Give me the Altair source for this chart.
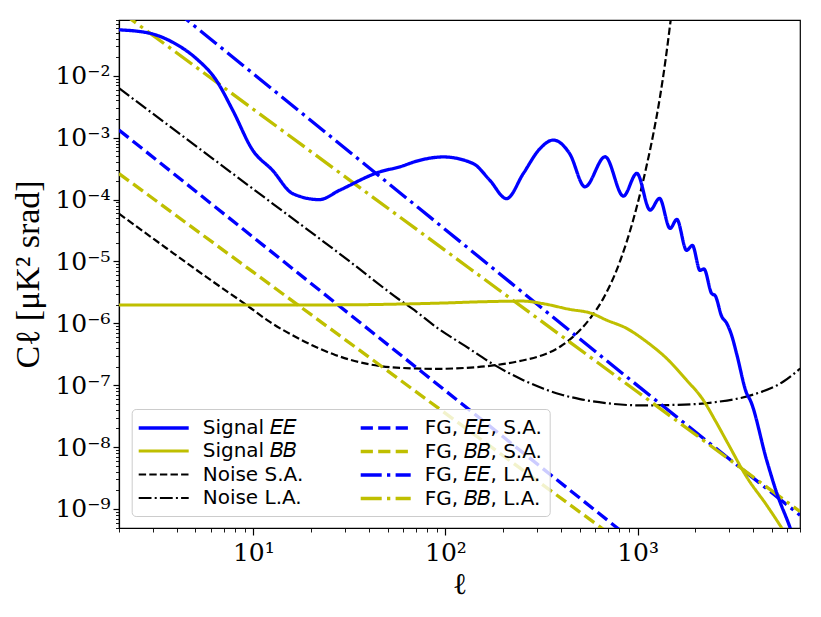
import altair as alt
import pandas as pd

# ---- values (log10 of ell, log10 of C_ell) ----
ee_log_ell = [0.301, 0.458, 0.588, 0.701, 0.806, 0.892, 0.996, 1.1, 1.205, 1.344, 1.448, 1.657,
              1.762, 1.866, 1.988, 2.144, 2.231, 2.318, 2.405, 2.492, 2.561, 2.647, 2.726, 2.831,
              2.926, 2.996, 3.065, 3.114, 3.169, 3.204, 3.255, 3.285, 3.325, 3.345, 3.386, 3.403,
              3.438, 3.464, 3.49, 3.516, 3.568, 3.586, 3.672, 3.725, 3.794, 3.846]
ee_log_cl = [-1.256, -1.309, -1.47, -1.714, -2.065, -2.55, -3.197, -3.526, -3.903, -4.0, -3.85, -3.553,
             -3.47, -3.364, -3.31, -3.417, -3.688, -3.984, -3.579, -3.175, -3.037, -3.26, -3.793, -3.307,
             -3.943, -3.576, -4.17, -3.98, -4.466, -4.32, -4.82, -4.74, -5.144, -5.12, -5.52, -5.55,
             -5.89, -6.0, -6.2, -6.5, -7.135, -7.24, -8.216, -8.75, -9.307, -9.8]

bb_log_ell = [0.301, 1.0, 1.5, 1.762, 2.0, 2.196, 2.405, 2.506, 2.645, 2.76, 2.838, 2.943, 3.047,
              3.151, 3.255, 3.342, 3.403, 3.468, 3.568, 3.672, 3.75, 3.846]
bb_log_cl = [-5.704, -5.704, -5.70, -5.688, -5.67, -5.65, -5.64, -5.68, -5.773, -5.838, -5.947, -6.081,
             -6.298, -6.566, -6.917, -7.241, -7.565, -7.93, -8.485, -8.94, -9.307, -9.8]

nsa_log_ell = [0.301, 0.55, 0.792, 0.965, 1.078, 1.252, 1.426, 1.6, 1.773, 1.95, 2.1, 2.248,
               2.4, 2.508, 2.6, 2.67, 2.75, 2.821, 2.908, 2.977, 3.047, 3.081, 3.116, 3.145, 3.17, 3.2]
nsa_log_cl = [-4.227, -4.79, -5.33, -5.704, -5.96, -6.27, -6.51, -6.66, -6.72, -6.735, -6.72, -6.68,
              -6.60, -6.51, -6.37, -6.2, -5.93, -5.6, -5.0, -4.33, -3.45, -2.95, -2.35, -1.75,
              -1.15, -0.4]

nla_log_ell = [0.301, 0.6, 1.0, 1.5, 1.757, 1.848, 1.965, 2.1, 2.248, 2.4, 2.508, 2.6, 2.7, 2.838,
               3.012, 3.2, 3.412, 3.603, 3.759, 3.846]
nla_log_cl = [-2.199, -2.897, -3.83, -4.995, -5.61, -5.81, -6.09, -6.36, -6.66, -6.91, -7.053, -7.149,
              -7.224, -7.29, -7.325, -7.317, -7.27, -7.15, -6.94, -6.73]

fg_log_ell = [0.301, 1.0, 2.0, 3.0, 3.845]
fg_ee_sa_log_cl = [-2.875, -4.609, -7.089, -9.569, -11.66]
fg_bb_sa_log_cl = [-3.579, -5.173, -7.454, -9.735, -11.66]
fg_ee_la_log_cl = [-0.204, -1.966, -4.486, -7.006, -9.10]
fg_bb_la_log_cl = [-0.942, -2.539, -4.824, -7.109, -9.040]

# legend order (the 2-column legend is filled column by column)
series_names = ["Signal 𝐸𝐸", "Signal 𝐵𝐵", "Noise S.A.", "Noise L.A.",
                "FG, 𝐸𝐸, S.A.", "FG, 𝐵𝐵, S.A.", "FG, 𝐸𝐸, L.A.", "FG, 𝐵𝐵, L.A."]
series_colors = ["#0000ff", "#bfbf00", "#000000", "#000000",
                 "#0000ff", "#bfbf00", "#0000ff", "#bfbf00"]
series_dash = [[1, 0], [1, 0], [7.4, 3.2], [12.8, 3.2, 2, 3.2],
               [12.2, 5.3], [12.2, 5.3], [21, 5.3, 3.3, 5.3], [21, 5.3, 3.3, 5.3]]
series_width = [3.3, 3.0, 2.2, 2.2, 3.3, 3.3, 3.3, 3.3]

curves = [
    ("Noise S.A.", nsa_log_ell, nsa_log_cl),
    ("Noise L.A.", nla_log_ell, nla_log_cl),
    ("FG, 𝐸𝐸, S.A.", fg_log_ell, fg_ee_sa_log_cl),
    ("FG, 𝐵𝐵, S.A.", fg_log_ell, fg_bb_sa_log_cl),
    ("FG, 𝐸𝐸, L.A.", fg_log_ell, fg_ee_la_log_cl),
    ("FG, 𝐵𝐵, L.A.", fg_log_ell, fg_bb_la_log_cl),
    ("Signal 𝐵𝐵", bb_log_ell, bb_log_cl),
    ("Signal 𝐸𝐸", ee_log_ell, ee_log_cl),
]
rows = []
for name, ll, lc in curves:
    for a, b in zip(ll, lc):
        rows.append({"ell": 10 ** a, "cl": 10 ** b, "series": name})
df = pd.DataFrame(rows)

# ---- ticks ----
x_major = [10, 100, 1000]
x_major_labels = ["10¹", "10²", "10³"]
x_ticks = [m * 10 ** d for d in range(0, 4) for m in range(1, 10) if 2 <= m * 10 ** d <= 7000]
y_major = [10.0 ** e for e in range(-9, -1)]
y_major_labels = ["10⁻⁹", "10⁻⁸", "10⁻⁷", "10⁻⁶", "10⁻⁵", "10⁻⁴", "10⁻³", "10⁻²"]
y_ticks = [m * 10.0 ** e for e in range(-10, -1) for m in range(1, 10)
           if 4.93e-10 <= m * 10.0 ** e <= 0.08]


def js_arr(vals):
    return "[" + ",".join(repr(v) for v in vals) + "]"


def js_str_arr(vals):
    return "[" + ",".join("'" + v + "'" for v in vals) + "]"


def label_expr(majors, labels):
    idx = "indexof(" + js_arr(majors) + ", datum.value)"
    return idx + " >= 0 ? " + js_str_arr(labels) + "[" + idx + "] : ''"


def major_test(majors):
    return "indexof(" + js_arr(majors) + ", datum.value) >= 0"


x_axis = alt.Axis(
    values=x_ticks, labelExpr=label_expr(x_major, x_major_labels),
    tickSize={"condition": {"test": major_test(x_major), "value": 7}, "value": 4},
    tickWidth={"condition": {"test": major_test(x_major), "value": 1.2}, "value": 0.9},
    labelPadding=5, title="ℓ", titleFont="DejaVu Serif", titleFontSize=30,
    titleFontWeight="normal", titlePadding=4,
)
y_axis = alt.Axis(
    values=y_ticks, labelExpr=label_expr(y_major, y_major_labels),
    tickSize={"condition": {"test": major_test(y_major), "value": 6}, "value": 3.5},
    tickWidth={"condition": {"test": major_test(y_major), "value": 1.2}, "value": 0.9},
    labelPadding=3, title="Cℓ [μK² srad]", titleFont="Liberation Serif", titleFontSize=34,
    titleFontWeight="normal", titlePadding=9,
)

leg = alt.Legend(
    title=None, orient="none", legendX=12.7, legendY=389, columns=2,
    symbolType="M-2.5,0H2.5", symbolSize=400, symbolOffset=13, labelOffset=27,
    labelFont="DejaVu Sans", labelFontSize=20, labelColor="black", labelLimit=400,
    rowPadding=1.5, columnPadding=50, padding=7,
    fillColor="rgba(255,255,255,0.8)", strokeColor="#cccccc", cornerRadius=4,
)

chart = alt.Chart(df).mark_line(clip=True, interpolate="monotone").encode(
    x=alt.X("ell:Q", scale=alt.Scale(type="log", domain=[2, 7000], nice=False), axis=x_axis),
    y=alt.Y("cl:Q", scale=alt.Scale(type="log", domain=[4.93e-10, 0.08], nice=False), axis=y_axis),
    color=alt.Color("series:N", scale=alt.Scale(domain=series_names, range=series_colors), legend=leg),
    strokeDash=alt.StrokeDash("series:N", scale=alt.Scale(domain=series_names, range=series_dash), legend=leg),
    strokeWidth=alt.StrokeWidth("series:N", scale=alt.Scale(type="ordinal", domain=series_names, range=series_width), legend=leg),
).properties(
    width=681, height=508,
    autosize=alt.AutoSizeParams(type="none"),
    padding={"left": 111, "top": 12, "right": 13, "bottom": 75},
).configure_view(
    stroke="black", strokeWidth=1.2
).configure_axis(
    grid=False, domainColor="black", domainWidth=1.2, tickColor="black",
    labelColor="black", titleColor="black", labelFont="DejaVu Serif", labelFontSize=25,
    labelOverlap=False, labelFlush=False,
)

chart.save("out.html", embed_options={"renderer": "svg", "actions": False})
